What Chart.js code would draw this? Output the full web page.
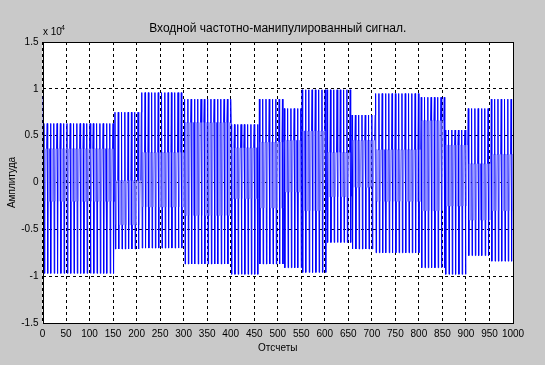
<!DOCTYPE html>
<html>
<head>
<meta charset="utf-8">
<script src="https://cdn.jsdelivr.net/npm/chart.js@4"></script>
<style>
html,body{margin:0;padding:0;background:#c9c9c9;}
#wrap{width:545px;height:365px;position:relative;}
</style>
</head>
<body>
<div id="wrap"><canvas id="c" width="545" height="365"></canvas></div>
<script>
// ---- data (amplitude in units of 10^4) ----
const titleText = 'Входной частотно-манипулированный сигнал.';
const xTitle = 'Отсчеты';
const yTitle = 'Амплитуда';
const leadSamples = [0.92, -0.33];
// segment start sample (1-based) and the levels seen in each segment
const segStart  = [3,     154,   211,   302,   401,   461,   514,   552,   605,   658,   708,   805,   856,   905,   954];
const segTop    = [0.63,  0.75,  0.96,  0.89,  0.62,  0.89,  0.79,  0.99,  0.99,  0.72,  0.95,  0.91,  0.56,  0.79,  0.89];
const segMidHi  = [0.36,  0.02,  0.32,  0.64,  0.37,  0.43,  0.45,  0.55,  0.32,  0.45,  0.35,  0.66,  0.40,  0.20,  0.30];
const segMidLo  = [-0.20, -0.45, -0.26, -0.35, -0.17, -0.27, -0.10, -0.30, -0.15, -0.05, -0.20, -0.30, -0.25, -0.40, -0.30];
const segBottom = [-0.97, -0.71, -0.70, -0.87, -0.98, -0.87, -0.91, -0.96, -0.64, -0.71, -0.75, -0.91, -0.98, -0.78, -0.84];
const nSamples = 1000;
const xTickStep = 50;
const yTickStep = 0.5;

// one visible cycle of each segment, from its read levels (true = inner level)
function segCycle(k){
  return [[segTop[k],false],[segBottom[k],false],[segMidHi[k],true],[segMidLo[k],true],
          [segMidLo[k],true],[segMidHi[k],true],[segMidHi[k],true]];
}
const points = [];
const inner = [];
leadSamples.forEach((v,i)=>{points.push({x:i+1, y:v*1e4}); inner.push(false);});
for(let k=0;k<segStart.length;k++){
  const end = k+1<segStart.length ? segStart[k+1] : nSamples+1;
  const cyc = segCycle(k);
  for(let n=segStart[k], j=0; n<end; n++, j++){
    const c = cyc[j%cyc.length];
    points.push({x:n, y:c[0]*1e4});
    inner.push(c[1]);
  }
}

const FONT = 'Liberation Sans, Arial, sans-serif';

const frame = {
  id:'frame',
  beforeDraw(chart){
    const {ctx, chartArea:a} = chart;
    ctx.save();
    ctx.fillStyle = '#c9c9c9';
    ctx.fillRect(0,0,chart.width,chart.height);
    ctx.fillStyle = '#ffffff';
    ctx.fillRect(a.left,a.top,a.right-a.left,a.bottom-a.top);
    ctx.restore();
  },
  afterDraw(chart){
    const {ctx, chartArea:a} = chart;
    ctx.save();
    ctx.strokeStyle = '#000';
    ctx.lineWidth = 1;
    ctx.strokeRect(Math.round(a.left)+0.5, Math.round(a.top)+0.5, Math.round(a.right-a.left)-1, Math.round(a.bottom-a.top));
    ctx.fillStyle = '#000';
    ctx.font = '12px ' + FONT;
    ctx.textAlign = 'center';
    ctx.textBaseline = 'alphabetic';
    ctx.fillText(titleText, (a.left+a.right)/2, 32);
    ctx.font = '10px ' + FONT;
    ctx.fillText(xTitle, (a.left+a.right)/2, 351);
    ctx.save();
    ctx.translate(15, (a.top+a.bottom)/2);
    ctx.rotate(-Math.PI/2);
    ctx.fillText(yTitle, 0, 0);
    ctx.restore();
    ctx.textAlign = 'left';
    ctx.fillText('x 10', 43, 35);
    ctx.font = '7px ' + FONT;
    ctx.fillText('4', 61, 30);
    ctx.restore();
  }
};

new Chart(document.getElementById('c'), {
  type:'line',
  data:{datasets:[{
    data: points,
    borderColor:'#0000ff',
    borderWidth:1,
    pointRadius:0,
    tension:0,
    fill:false,
    segment:{
      borderColor: (c)=> (inner[c.p0DataIndex] && inner[c.p1DataIndex]) ? '#8c8cff' : '#0000ff'
    }
  }]},
  options:{
    responsive:false,
    animation:false,
    events:[],
    layout:{padding:{left:0,top:42,right:32,bottom:0}},
    plugins:{legend:{display:false},tooltip:{enabled:false},title:{display:false}},
    scales:{
      x:{
        type:'linear', min:0, max:nSamples, z:1,
        afterFit(s){ s.height = 42; },
        ticks:{stepSize:xTickStep, autoSkip:false, maxRotation:0, color:'#000', padding:5, font:{family:FONT,size:10},
          callback:(v)=>String(v)},
        grid:{color:'#000', lineWidth:1, drawTicks:false},
        border:{display:false, dash:[3,3]}
      },
      y:{
        min:-1.5e4, max:1.5e4, z:1,
        afterFit(s){ s.width = 42.5; },
        ticks:{stepSize:yTickStep*1e4, color:'#000', padding:4, font:{family:FONT,size:10},
          callback:(v)=>String(Math.round(v/1e4*10)/10)},
        grid:{color:'#000', lineWidth:1, drawTicks:false},
        border:{display:false, dash:[3,3]}
      }
    }
  },
  plugins:[frame]
});
</script>
</body>
</html>
